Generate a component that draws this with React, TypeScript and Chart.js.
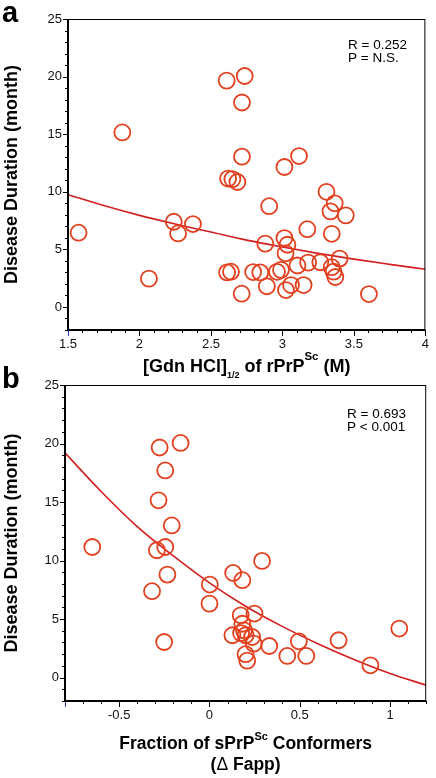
import React, { useEffect, useRef } from "react";
import { Chart, registerables } from "chart.js";

Chart.register(...registerables);

const FONT = '"Liberation Sans", Arial, Helvetica, sans-serif';
const W = 436;
const H = 778;

// ---------- Panel a data ----------
const gdnHalf = [
  1.574, 1.88, 2.066, 2.24, 2.27, 2.374, 2.61, 2.736, 2.717, 2.717, 2.62, 2.65,
  2.685, 3.014, 3.116, 3.308, 3.366, 2.907, 3.336, 3.443, 3.174, 3.345, 2.88,
  3.014, 3.035, 3.022, 2.613, 2.64, 2.795, 2.845, 2.962, 2.99, 3.105, 3.18,
  3.265, 3.4, 3.345, 3.358, 3.37, 2.891, 2.715, 3.025, 3.06, 3.148, 3.605,
];
const durationA = [
  6.45, 15.15, 2.46, 7.4, 6.38, 7.2, 19.65, 20.05, 17.75, 13.05, 11.15, 11.1,
  10.85, 12.15, 13.1, 10.0, 9.0, 8.75, 8.3, 7.95, 6.75, 6.35, 5.5, 5.98, 5.4,
  4.66, 3.0, 3.06, 3.03, 3.0, 3.05, 3.22, 3.6, 3.85, 3.88, 4.2, 3.45, 3.06, 2.6,
  1.8, 1.15, 1.47, 1.9, 1.9, 1.12,
];
const fitAX = [1.5, 1.75, 2.0, 2.25, 2.5, 2.75, 3.0, 3.25, 3.5, 3.75, 4.0];
const fitAY = [9.75, 8.8, 7.95, 7.2, 6.5, 5.8, 5.2, 4.65, 4.15, 3.7, 3.27];
const statsA = ["R = 0.252", "P = N.S."];

// ---------- Panel b data ----------
const fapp = [
  -0.276, -0.16, -0.245, -0.282, -0.209, -0.649, -0.291, -0.245, -0.233, 0.131,
  0.182, 0.291, 0.002, -0.318, 0.0, -0.251, 0.173, 0.249, 0.182, 0.127, 0.191,
  0.2, 0.236, 0.245, 0.331, 0.495, 0.431, 0.536, 0.2, 0.209, 0.715, 0.891, 1.051,
  0.175,
];
const durationB = [
  19.66, 20.05, 17.7, 15.15, 13.0, 11.16, 10.88, 11.16, 8.8, 8.94, 8.32, 9.97,
  7.95, 7.38, 6.32, 3.04, 5.32, 5.47, 4.6, 3.62, 4.04, 3.62, 3.47, 2.9, 2.7, 3.1,
  1.85, 1.85, 2.0, 1.45, 3.19, 1.05, 4.19, 3.8,
];
const fitBX = [-0.8, -0.6, -0.4, -0.2, 0.0, 0.2, 0.4, 0.6, 0.8, 1.0, 1.2];
const fitBY = [19.2, 15.9, 12.9, 10.4, 8.1, 6.1, 4.4, 2.9, 1.55, 0.35, -0.65];
const statsB = ["R = 0.693", "P < 0.001"];

const yTitle = "Disease Duration (month)";

type Seg = { t: string; size: number; dy: number; bold?: boolean };

interface PanelCfg {
  xs: number[];
  ys: number[];
  fx: number[];
  fy: number[];
  xMin: number;
  xMax: number;
  xMajor: number;
  yMin: number;
  yMax: number;
  area: { left: number; right: number; top: number; bottom: number };
  letter: string;
  letterPos: [number, number];
  stats: string[];
  statsPos: [number, number, number];
  xTitle: Seg[][];
  xTitleY: number[];
}

const POINT_COLOR = "#e2401e";
const LINE_COLOR = "#d21f1f";

function drawRich(ctx: CanvasRenderingContext2D, segs: Seg[], cx: number, y: number) {
  const fontOf = (s: Seg) => `${s.bold === false ? "" : "bold "}${s.size}px ${FONT}`;
  let total = 0;
  const widths = segs.map((s) => {
    ctx.font = fontOf(s);
    const w = ctx.measureText(s.t).width;
    total += w;
    return w;
  });
  let x = cx - total / 2;
  ctx.textAlign = "left";
  ctx.textBaseline = "alphabetic";
  segs.forEach((s, i) => {
    ctx.font = fontOf(s);
    ctx.fillText(s.t, x, y + s.dy);
    x += widths[i];
  });
}

const isMult = (v: number, m: number) => Math.abs(v / m - Math.round(v / m)) < 1e-6;

function makeConfig(cfg: PanelCfg): any {
  const { area } = cfg;
  const decor = {
    id: "decor",
    afterDraw(chart: any) {
      const ctx: CanvasRenderingContext2D = chart.ctx;
      const ca = chart.chartArea;
      const xs = chart.scales.x;
      const ys = chart.scales.y;
      ctx.save();
      // ticks
      ctx.lineWidth = 1;
      ys.ticks.forEach((t: any) => {
        const py = Math.round(ys.getPixelForValue(t.value)) + 0.5;
        const len = isMult(t.value, 5) ? 5 : 3;
        ctx.strokeStyle = "#000";
        ctx.beginPath();
        ctx.moveTo(ca.left - len, py);
        ctx.lineTo(ca.left, py);
        ctx.stroke();
      });
      xs.ticks.forEach((t: any, i: number) => {
        const px = Math.round(xs.getPixelForValue(t.value)) + 0.5;
        const major = isMult(t.value, cfg.xMajor);
        const len = major || i === 0 ? 6 : 3;
        ctx.strokeStyle = i === 0 ? "#2a3cc8" : "#000";
        ctx.beginPath();
        ctx.moveTo(px, ca.bottom);
        ctx.lineTo(px, ca.bottom + len);
        ctx.stroke();
      });
      // frame
      ctx.strokeStyle = "#000";
      ctx.lineWidth = 1;
      ctx.strokeRect(ca.left + 0.5, ca.top + 0.5, ca.right - ca.left - 1, ca.bottom - ca.top - 1);
      ctx.lineWidth = 2;
      ctx.beginPath();
      ctx.moveTo(ca.left, ca.top);
      ctx.lineTo(ca.left, ca.bottom);
      ctx.lineTo(ca.right, ca.bottom);
      ctx.stroke();

      ctx.fillStyle = "#000";
      // panel letter
      ctx.font = `bold 29px ${FONT}`;
      ctx.textAlign = "left";
      ctx.textBaseline = "alphabetic";
      ctx.fillText(cfg.letter, cfg.letterPos[0], cfg.letterPos[1]);
      // stats
      ctx.font = `13.5px ${FONT}`;
      cfg.stats.forEach((s, i) => {
        ctx.fillText(s, cfg.statsPos[0], cfg.statsPos[1] + i * cfg.statsPos[2]);
      });
      // y title
      ctx.save();
      ctx.translate(16.5, (ca.top + ca.bottom) / 2);
      ctx.rotate(-Math.PI / 2);
      ctx.font = `bold 18px ${FONT}`;
      ctx.textAlign = "center";
      ctx.textBaseline = "alphabetic";
      ctx.fillText(yTitle, 0, 0);
      ctx.restore();
      // x title
      const cx = (ca.left + ca.right) / 2;
      cfg.xTitle.forEach((line, i) => drawRich(ctx, line, cx, cfg.xTitleY[i]));
      ctx.restore();
    },
  };

  return {
    type: "scatter",
    data: {
      datasets: [
        {
          type: "scatter",
          data: cfg.xs.map((x, i) => ({ x, y: cfg.ys[i] })),
          pointRadius: 8,
          pointHoverRadius: 8,
          borderWidth: 1.8,
          pointBorderWidth: 1.8,
          borderColor: POINT_COLOR,
          backgroundColor: "rgba(0,0,0,0)",
          order: 1,
        },
        {
          type: "line",
          data: cfg.fx.map((x, i) => ({ x, y: cfg.fy[i] })),
          showLine: true,
          pointRadius: 0,
          borderColor: LINE_COLOR,
          borderWidth: 1.6,
          cubicInterpolationMode: "monotone",
          fill: false,
          order: 2,
        },
      ],
    },
    options: {
      animation: false,
      responsive: false,
      events: [],
      layout: {
        padding: {
          left: 0,
          top: area.top,
          right: W - area.right,
          bottom: H - area.bottom - 30,
        },
      },
      plugins: { legend: { display: false }, tooltip: { enabled: false }, title: { display: false } },
      scales: {
        x: {
          type: "linear",
          min: cfg.xMin,
          max: cfg.xMax,
          border: { display: false },
          grid: { display: false, drawTicks: false },
          afterFit: (s: any) => {
            s.height = 30;
          },
          ticks: {
            stepSize: 0.1,
            autoSkip: false,
            maxRotation: 0,
            minRotation: 0,
            padding: 7,
            color: "#111",
            font: { family: FONT, size: 13 },
            callback: (v: any) => {
              const n = Number(v);
              if (!isMult(n, cfg.xMajor)) return "";
              return String(Number(n.toFixed(1)));
            },
          },
        },
        y: {
          type: "linear",
          min: cfg.yMin,
          max: cfg.yMax,
          border: { display: false },
          grid: { display: false, drawTicks: false },
          afterFit: (s: any) => {
            s.width = area.left;
          },
          ticks: {
            stepSize: 1,
            autoSkip: false,
            padding: 6,
            color: "#111",
            font: { family: FONT, size: 13 },
            callback: (v: any) => {
              const n = Number(v);
              if (!isMult(n, 5)) return "";
              return String(Math.round(n));
            },
          },
        },
      },
    },
    plugins: [decor],
  };
}

const panelA: PanelCfg = {
  xs: gdnHalf,
  ys: durationA,
  fx: fitAX,
  fy: fitAY,
  xMin: 1.5,
  xMax: 4,
  xMajor: 0.5,
  yMin: -2,
  yMax: 25,
  area: { left: 68, right: 428, top: 19, bottom: 330 },
  letter: "a",
  letterPos: [2, 22],
  stats: statsA,
  statsPos: [348, 49, 13],
  xTitle: [
    [
      { t: "[Gdn HCl]", size: 18, dy: 0 },
      { t: "1/2", size: 9, dy: 6 },
      { t: " of rPrP", size: 18, dy: 0 },
      { t: "Sc", size: 11.5, dy: -12 },
      { t: " (M)", size: 18, dy: 0 },
    ],
  ],
  xTitleY: [371.5],
};

const panelB: PanelCfg = {
  xs: fapp,
  ys: durationB,
  fx: fitBX,
  fy: fitBY,
  xMin: -0.8,
  xMax: 1.2,
  xMajor: 0.5,
  yMin: -2,
  yMax: 25,
  area: { left: 65, right: 432, top: 385, bottom: 701 },
  letter: "b",
  letterPos: [2, 388],
  stats: statsB,
  statsPos: [347, 418, 13],
  xTitle: [
    [
      { t: "Fraction of sPrP", size: 17.5, dy: 0 },
      { t: "Sc", size: 11, dy: -9 },
      { t: " Conformers", size: 17.5, dy: 0 },
    ],
    [
      { t: "(", size: 17.5, dy: 0 },
      { t: "\u0394", size: 17.5, dy: 0, bold: false },
      { t: " Fapp)", size: 17.5, dy: 0 },
    ],
  ],
  xTitleY: [748.5, 769.5],
};

function Panel({ cfg }: { cfg: PanelCfg }) {
  const ref = useRef<HTMLCanvasElement | null>(null);
  useEffect(() => {
    if (!ref.current) return;
    const chart = new Chart(ref.current, makeConfig(cfg));
    return () => chart.destroy();
  }, [cfg]);
  return (
    <canvas
      ref={ref}
      width={W}
      height={H}
      style={{ position: "absolute", left: 0, top: 0, width: W, height: H }}
    />
  );
}

export default function App() {
  return (
    <div
      style={{
        position: "absolute",
        left: 0,
        top: 0,
        width: W,
        height: H,
        background: "#fff",
        overflow: "hidden",
      }}
    >
      <Panel cfg={panelA} />
      <Panel cfg={panelB} />
    </div>
  );
}
